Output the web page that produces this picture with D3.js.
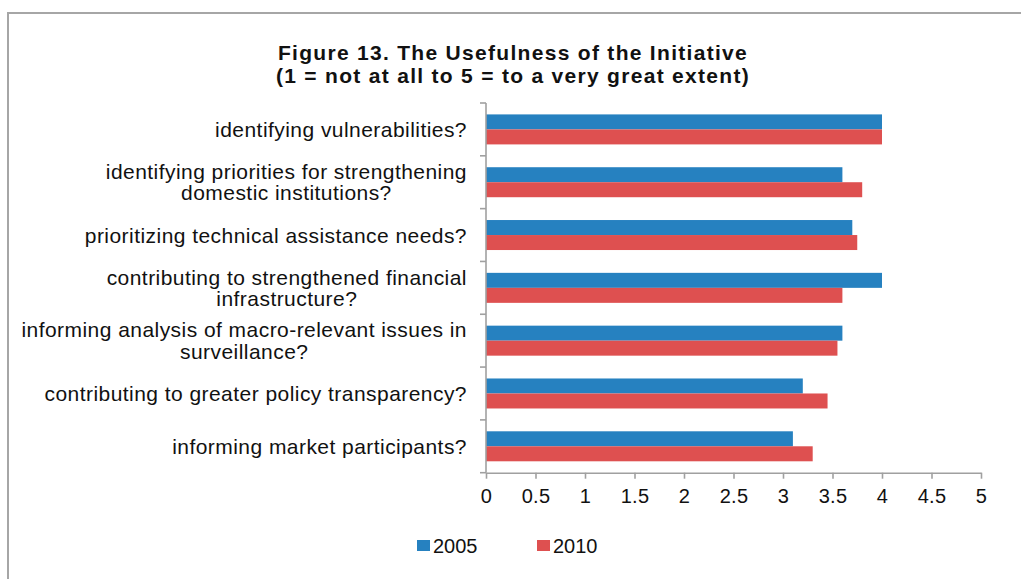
<!DOCTYPE html>
<html>
<head>
<meta charset="utf-8">
<script src="https://cdn.jsdelivr.net/npm/d3@7"></script>
<style>
  html, body { margin: 0; padding: 0; background: #fff; }
  svg { display: block; }
  text { font-family: "Liberation Sans", Arial, sans-serif; fill: #111; }
</style>
</head>
<body>
<svg id="chart" width="1021" height="579"></svg>
<script>
// ---- data ----
const categories = [
  "identifying vulnerabilities?",
  "identifying priorities for strengthening\ndomestic institutions?",
  "prioritizing technical assistance needs?",
  "contributing to strengthened financial\ninfrastructure?",
  "informing analysis of macro-relevant issues in\nsurveillance?",
  "contributing to greater policy transparency?",
  "informing market participants?"
];
const seriesNames = ["2005", "2010"];
const values2005 = [4.0, 3.6, 3.7, 4.0, 3.6, 3.2, 3.1];
const values2010 = [4.0, 3.8, 3.75, 3.6, 3.55, 3.45, 3.3];
const xTicks = [0, 0.5, 1, 1.5, 2, 2.5, 3, 3.5, 4, 4.5, 5];
const titleLines = ["Figure 13. The Usefulness of the Initiative", "(1 = not at all to 5 = to a very great extent)"];
const colors = { "2005": "#2681c0", "2010": "#de5050" };

const rows = categories.map((c, i) => ({ cat: c, "2005": values2005[i], "2010": values2010[i] }));

// ---- layout ----
const svg = d3.select("#chart");
const plotLeft = 486, plotRight = 981, plotTop = 103, plotBottom = 472.7;

// frame
svg.append("path")
  .attr("d", `M8,579 L8,13 L1021,13`)
  .attr("fill", "none").attr("stroke", "#a6a6a6").attr("stroke-width", 2);

// title
titleLines.forEach((t, i) => {
  svg.append("text").attr("text-anchor", "middle")
    .attr("font-size", 21).attr("font-weight", "bold").attr("letter-spacing", "1.3px")
    .attr("x", 513).attr("y", 60 + i * 23).text(t);
});

// scales
const x = d3.scaleLinear().domain([0, 5]).range([plotLeft, plotRight]);
const yBand = d3.scaleBand().domain(categories).range([plotTop, plotBottom]).paddingInner(0.432).paddingOuter(0.216);
const yGrid = d3.scaleBand().domain(categories).range([plotTop, plotBottom]);
const ySub = d3.scaleBand().domain(seriesNames).range([0, yBand.bandwidth()]);

// bars
const groups = svg.append("g").selectAll("g").data(rows).join("g")
  .attr("transform", d => `translate(0,${yBand(d.cat)})`);
groups.selectAll("rect").data(d => seriesNames.map(s => ({ s, v: d[s] }))).join("rect")
  .attr("x", x(0))
  .attr("y", d => ySub(d.s))
  .attr("width", d => x(d.v) - x(0))
  .attr("height", ySub.bandwidth())
  .attr("fill", d => colors[d.s]);

// x axis
const xAxis = d3.axisBottom(x).tickValues(xTicks).tickFormat(d3.format("~g")).tickSize(6).tickSizeOuter(0);
const gx = svg.append("g").attr("transform", `translate(0,${plotBottom})`).call(xAxis);
gx.select(".domain").attr("stroke", "#a0a0a0").attr("stroke-width", 1.6);
gx.selectAll(".tick line").attr("stroke", "#a0a0a0").attr("stroke-width", 1.6);
gx.selectAll(".tick text").attr("font-size", 20).attr("fill", "#111")
  .attr("font-family", "Liberation Sans, Arial, sans-serif").attr("y", 30).attr("dy", 0)
  .attr("dominant-baseline", "auto").attr("letter-spacing", "0.3px");

// y axis (ticks at band boundaries)
const yTickPos = categories.map(c => yGrid(c)).concat([plotBottom]);
const gy = svg.append("g");
gy.append("line").attr("x1", plotLeft).attr("x2", plotLeft).attr("y1", plotTop).attr("y2", plotBottom)
  .attr("stroke", "#a0a0a0").attr("stroke-width", 1.6);
gy.selectAll("line.tk").data(yTickPos).join("line").attr("class", "tk")
  .attr("x1", plotLeft - 6).attr("x2", plotLeft).attr("y1", d => d).attr("y2", d => d)
  .attr("stroke", "#a0a0a0").attr("stroke-width", 1.6);

// category labels
const labelRight = 467;
const lineH = 21.5;
categories.forEach(c => {
  const lines = c.split("\n");
  const cy = yGrid(c) + yGrid.bandwidth() / 2;
  const t = svg.append("text").attr("font-size", 21).attr("letter-spacing", "0.45px").attr("text-anchor", "middle");
  const spans = lines.map((ln, i) => t.append("tspan")
    .attr("y", cy + 7.5 + (i - (lines.length - 1) / 2) * lineH).text(ln));
  const maxW = d3.max(spans, s => s.node().getComputedTextLength());
  spans.forEach(s => s.attr("x", labelRight - maxW / 2));
});

// legend
const legendItems = [{ s: "2005", x: 417 }, { s: "2010", x: 537 }];
const lg = svg.append("g");
legendItems.forEach(li => {
  lg.append("rect").attr("x", li.x).attr("y", 540).attr("width", 13).attr("height", 11).attr("fill", colors[li.s]);
  lg.append("text").attr("x", li.x + 16).attr("y", 552.5).attr("font-size", 20).text(li.s);
});
</script>
</body>
</html>
